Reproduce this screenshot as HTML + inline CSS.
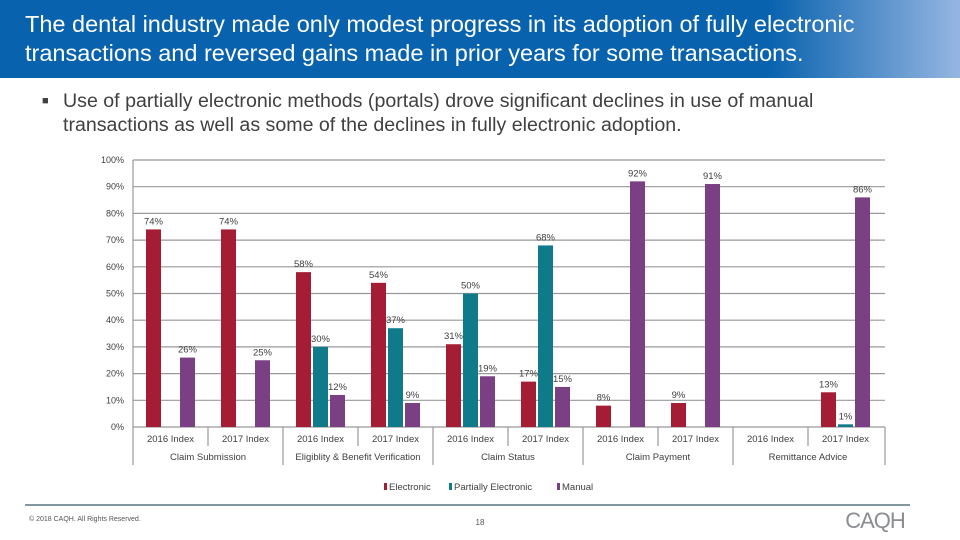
<!DOCTYPE html>
<html><head><meta charset="utf-8"><style>
body{margin:0;width:960px;height:540px;overflow:hidden;background:#fff;font-family:"Liberation Sans",sans-serif;position:relative}
.hdr{position:absolute;left:0;top:0;width:960px;height:78px;background:linear-gradient(90deg,#0862ae 0%,#0862ae 80%,#95b6e2 100%)}
.hdr div{position:absolute;left:25px;top:10px;color:#fff;font-size:23.5px;line-height:29px;white-space:nowrap}
.bul{position:absolute;left:42px;top:89px;font-size:19.6px;line-height:24px;color:#404040;width:800px}
.bul span{position:absolute;left:0;top:0;font-size:11px}
.bul div{margin-left:21px;white-space:nowrap}
</style></head><body>
<div class="hdr"><div>The dental industry made only modest progress in its adoption of fully electronic<br>transactions and reversed gains made in prior years for some transactions.</div></div>
<div class="bul"><span>■</span><div>Use of partially electronic methods (portals) drove significant declines in use of manual<br>transactions as well as some of the declines in fully electronic adoption.</div></div>
<svg id="chart" width="960" height="540" style="position:absolute;left:0;top:0"></svg>
<script>
const categories=["2016 Index","2017 Index","2016 Index","2017 Index","2016 Index","2017 Index","2016 Index","2017 Index","2016 Index","2017 Index"];
const groups=["Claim Submission","Eligiblity & Benefit Verification","Claim Status","Claim Payment","Remittance Advice"];
const electronic=[74,74,58,54,31,17,8,9,null,13];
const partial=[null,null,30,37,50,68,null,null,null,1];
const manual=[26,25,12,9,19,15,92,91,null,86];
const ticks=[0,10,20,30,40,50,60,70,80,90,100];
const NS="http://www.w3.org/2000/svg",svg=document.getElementById('chart');
const X0=133,CW=75,Y0=427,PH=267,BW=15;
const y=v=>Y0-v/100*PH;
const xc=i=>X0+CW*i+CW/2;
function mk(t,a,txt){const e=document.createElementNS(NS,t);for(const k in a)e.setAttribute(k,a[k]);if(txt!=null)e.textContent=txt;svg.appendChild(e);return e;}
ticks.forEach(t=>{
 const l=mk('line',{x1:X0,x2:885,y1:y(t),y2:y(t),stroke:'#999','stroke-width':1.2});
 
 
 const tx=mk('text',{x:124,y:y(t)+3,'text-anchor':'end','font-size':9,fill:'#404040'},t+'%');
 
 
});
mk('line',{x1:X0,x2:X0,y1:160,y2:465,stroke:'#999','stroke-width':1.2});
mk('line',{x1:885,x2:885,y1:427,y2:465,stroke:'#999','stroke-width':1.2});
categories.forEach((c,i)=>{
 const t=mk('text',{x:xc(i),y:442,'text-anchor':'middle','font-size':9.5,fill:'#404040'},c);
 
 
 const xr=X0+CW*(i+1);
 if(i<9) mk('line',{x1:xr,x2:xr,y1:427,y2:(i%2==1?465:446),stroke:'#999','stroke-width':1.2});
});
groups.forEach((g,j)=>{
 const t=mk('text',{x:X0+CW*(2*j+1),y:460,'text-anchor':'middle','font-size':9.5,fill:'#404040'},g);
 
 
});
const series=[[electronic,'#a51c35',-1,'electronic'],[partial,'#0e7a8a',0,'partially-electronic'],[manual,'#7b3f84',1,'manual']];
series.forEach(([arr,col,off,nm])=>{
 arr.forEach((v,i)=>{
  if(v==null)return;
  const bx=xc(i)+off*(BW+2)-BW/2;
  const r=mk('rect',{x:bx,y:y(v),width:BW,height:Y0-y(v),fill:col});
  
  
  const t=mk('text',{x:bx+BW/2,y:y(v)-5,'text-anchor':'middle','font-size':9.5,fill:'#404040'},v+'%');
  
  
 });
});
const leg=[['Electronic','#a51c35',388],['Partially Electronic','#0e7a8a',453],['Manual','#7b3f84',561]];
leg.forEach(([n,c,x])=>{
 mk('rect',{x:x-4,y:483,width:3,height:7,fill:c});
 const t=mk('text',{x:x+1,y:490,'font-size':9.5,fill:'#404040'},n);
 
 
});
mk('line',{x1:25,x2:910,y1:505,y2:505,stroke:'#5a7580','stroke-width':1.5});
const cp=mk('text',{x:29,y:521,'font-size':7,fill:'#555'},'© 2018 CAQH. All Rights Reserved.');


const pg=mk('text',{x:480,y:525,'text-anchor':'middle','font-size':8,fill:'#555'},'18');


const lg=mk('text',{x:875,y:528,'text-anchor':'middle','font-size':22,fill:'#8a8d92','letter-spacing':'-1'},'CAQH');


</script>
</body></html>
